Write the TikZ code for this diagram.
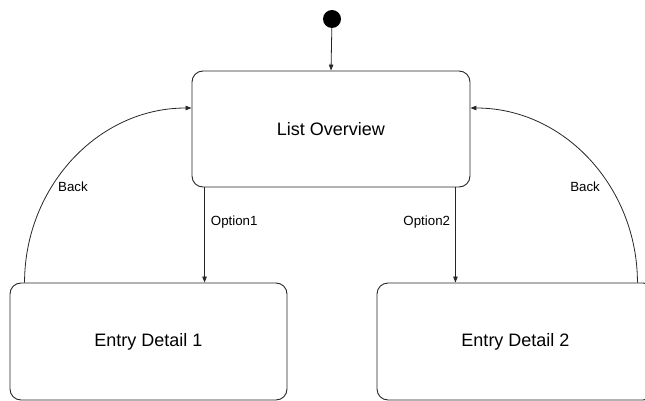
\documentclass[tikz,border=0pt]{standalone}
\usepackage{fontspec}
\setmainfont{Liberation Sans}
\usetikzlibrary{arrows.meta}

\tikzset{
  state/.style={draw=black!85, rounded corners=11pt, line width=0.9pt,
    minimum width=278pt, minimum height=116pt, font=\fontsize{18}{21}\selectfont},
  trans/.style={draw=black!85, line width=0.8pt, -{Triangle[length=6pt,width=4.5pt]}},
  lbl/.style={font=\fontsize{13.3}{15}\selectfont, inner sep=2pt},
}

\begin{document}
\begin{tikzpicture}[x=1pt,y=-1pt]
	\useasboundingbox (0,0) rectangle (645,401);
	
	% Estados
	\node[circle, fill=black, minimum size=18pt, inner sep=0pt] (init) at (332,19) {};
	\node[state] (lo) at (331,129) {List Overview};
	\node[state, minimum width=277pt, minimum height=117pt] (ed1) at (148.5,341.5) {Entry Detail 1};
	\node[state, minimum width=277pt, minimum height=117pt] (ed2) at (515.5,341.5) {Entry Detail 2};
	
	% Puntos de salida
	\coordinate (o1) at ([xshift=13pt]lo.south west);
	\coordinate (o2) at ([xshift=-15pt]lo.south east);
	\coordinate (b1) at ([xshift=15pt]ed1.north west);
	\coordinate (b2) at ([xshift=-17pt]ed2.north east);
	
	% Transiciones
	\draw[trans] (init) -- (lo.north);
	\draw[trans] (o1) -- (o1 |- ed1.north) node[lbl, pos=0.36, anchor=west, xshift=4pt] (opt1) {Option1};
	\draw[trans] (o2) -- (o2 |- ed2.north) node[lbl, pos=0.36, anchor=east, xshift=-3pt] (opt2) {Option2};
	\draw[trans] (b1) to[out=90, in=180] node[lbl, pos=0.37, anchor=west, xshift=4pt] (back1) {Back} ([yshift=21pt]lo.west);
	\draw[trans] (b2) to[out=90, in=0] node[lbl, pos=0.37, anchor=east, xshift=-8pt] (back2) {Back} ([yshift=21pt]lo.east);
\end{tikzpicture}
\end{document}
